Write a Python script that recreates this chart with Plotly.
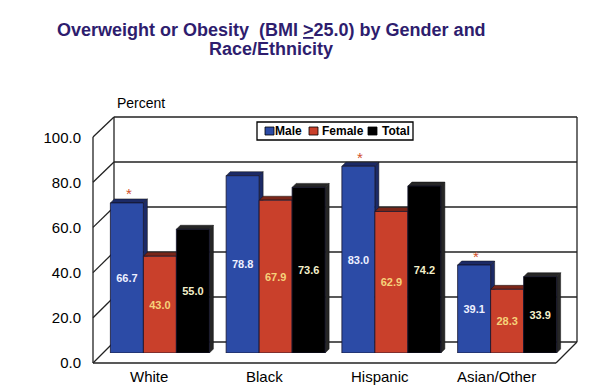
import plotly.graph_objects as go

categories = ["White", "Black", "Hispanic", "Asian/Other"]
male = [66.7, 78.8, 83.0, 39.1]
female = [43.0, 67.9, 62.9, 28.3]
total = [55.0, 73.6, 74.2, 33.9]
male_significant = [True, False, True, True]
y_ticks = [0, 20, 40, 60, 80, 100]

# The page body has an 8 px margin, so the figure is 8 px smaller than the window
OFF = 8
W, H = 600 - OFF, 385 - OFF
L, R, T, B = 102, 565, 117, 353  # plot area in window pixels
PXU = 2.25  # pixels per percent unit (bar scale)
ymax = (B - T) / PXU
FONT = "Arial, Liberation Sans, sans-serif"
BARGAP = 0.145


def px(x):
    return (x - L) / (R - L)


def py(y):
    return (B - y) / (B - T)


fig = go.Figure()
series = [
    ("Male", male, "#2c4ba6", "#eef0ff", "#1c2a66"),
    ("Female", female, "#c9402b", "#f6d27a", "#7a2619"),
    ("Total", total, "#000000", "#f3efc9", "#262626"),
]
for name, vals, col, tcol, _ in series:
    fig.add_trace(go.Bar(
        x=categories, y=vals, name=name, showlegend=False,
        marker=dict(color=col, line=dict(color="#15152e", width=0.8)),
        text=[f"{v:.1f}" for v in vals], textposition="inside",
        insidetextanchor="middle", textangle=0,
        textfont=dict(family=FONT, size=11, color=tcol, weight="bold"),
        cliponaxis=False,
    ))

shapes = []
# 3-D top and side faces of each bar, derived from the data values
n = len(series)
bw = (1 - BARGAP) / n
dx = 4 / ((R - L) / len(categories))
dy = 4 / PXU
for j, (_, vals, _, _, dark) in enumerate(series):
    for i, v in enumerate(vals):
        x0 = i - (1 - BARGAP) / 2 + j * bw
        x1 = x0 + bw
        top = f"M {x0},{v} L {x0+dx},{v+dy} L {x1+dx},{v+dy} L {x1},{v} Z"
        side = f"M {x1},0 L {x1+dx},{dy} L {x1+dx},{v+dy} L {x1},{v} Z"
        for p in (side, top):
            shapes.append(dict(type="path", xref="x", yref="y", path=p, layer="below",
                               fillcolor=dark, line=dict(color="#111", width=0.5)))

line = dict(color="#222222", width=1.3)
# back wall gridlines and perspective ticks
for v in y_ticks:
    yb = 342 - PXU * v
    yf = 363 - 2.26 * v
    shapes.append(dict(type="line", xref="paper", yref="paper", layer="below",
                       x0=px(114), x1=px(577), y0=py(yb), y1=py(yb), line=line))
    shapes.append(dict(type="line", xref="paper", yref="paper", layer="below",
                       x0=px(93), x1=px(114), y0=py(yf), y1=py(yb), line=line))
# walls and floor edges
shapes += [
    dict(type="line", xref="paper", yref="paper", layer="below",
         x0=px(114), x1=px(114), y0=py(117), y1=py(342), line=line),
    dict(type="line", xref="paper", yref="paper", layer="below",
         x0=px(577), x1=px(577), y0=py(117), y1=py(342), line=line),
    dict(type="line", xref="paper", yref="paper", layer="below",
         x0=px(93), x1=px(93), y0=py(137), y1=py(363), line=line),
    dict(type="line", xref="paper", yref="paper", layer="above",
         x0=px(93), x1=px(556), y0=py(363), y1=py(363), line=line),
    dict(type="line", xref="paper", yref="paper", layer="above",
         x0=px(556), x1=px(577), y0=py(363), y1=py(342), line=line),
]

annotations = []
# legend box
shapes.append(dict(type="rect", xref="paper", yref="paper", layer="above",
                   x0=px(257), x1=px(413), y0=py(122), y1=py(140),
                   fillcolor="white", line=dict(color="#000", width=1.3)))
legend_items = [(265, 273, "Male"), (309, 320, "Female"), (368, 380, "Total")]
for (sx, tx, name), s in zip(legend_items, series):
    shapes.append(dict(type="rect", xref="paper", yref="paper", layer="above",
                       x0=px(sx), x1=px(sx + 9), y0=py(127), y1=py(135),
                       fillcolor=s[2], line=dict(color="#000", width=0.8)))
    annotations.append(dict(x=px(tx), y=py(131), xref="paper", yref="paper",
                            text=name, showarrow=False, xanchor="left", yanchor="middle",
                            font=dict(family=FONT, size=12, color="#000", weight="bold")))

for cat, v, sig in zip(categories, male, male_significant):
    if sig:
        annotations.append(dict(x=cat, y=v, xref="x", yref="y", text="*",
                                showarrow=False, xshift=-31, yshift=9,
                                font=dict(family="Arial", size=15, color="#d2502a")))
# category labels (front plane, shifted left of the bar groups)
for cat in categories:
    annotations.append(dict(x=cat, y=py(376), xref="x", yref="paper", text=cat,
                            showarrow=False, xshift=-11, yanchor="middle",
                            font=dict(family=FONT, size=15, color="#000")))
annotations.append(dict(x=px(115), y=py(103), xref="paper", yref="paper",
                        text="Percent", showarrow=False, xanchor="left", yanchor="middle",
                        font=dict(family=FONT, size=14, color="#000")))
# title lines
title_font = dict(family=FONT, size=18, color="#2e1d6e", weight="bold")
annotations.append(dict(x=px(271), y=py(30), xref="paper", yref="paper",
                        text="Overweight or Obesity  (BMI <u>></u>25.0) by Gender and",
                        showarrow=False, xanchor="center", yanchor="middle", font=title_font))
annotations.append(dict(x=px(271), y=py(49), xref="paper", yref="paper",
                        text="Race/Ethnicity",
                        showarrow=False, xanchor="center", yanchor="middle", font=title_font))

fig.update_layout(
    width=W, height=H,
    margin=dict(l=L - OFF, r=600 - R, t=T - OFF, b=385 - B, pad=0, autoexpand=False),
    paper_bgcolor="white", plot_bgcolor="white",
    barmode="group", bargap=BARGAP, bargroupgap=0,
    showlegend=False,
    xaxis=dict(showgrid=False, showline=False, zeroline=False, ticks="",
               showticklabels=False, automargin=False),
    yaxis=dict(range=[0, ymax], tickvals=y_ticks, ticktext=[f"{v:.1f}" for v in y_ticks],
               showgrid=False, showline=False, zeroline=False, ticks="", automargin=False,
               tickfont=dict(family=FONT, size=15, color="#000"),
               ticklabelstandoff=20, ticklabelshift=10),
    shapes=shapes, annotations=annotations,
)

fig.write_html("out.html")
